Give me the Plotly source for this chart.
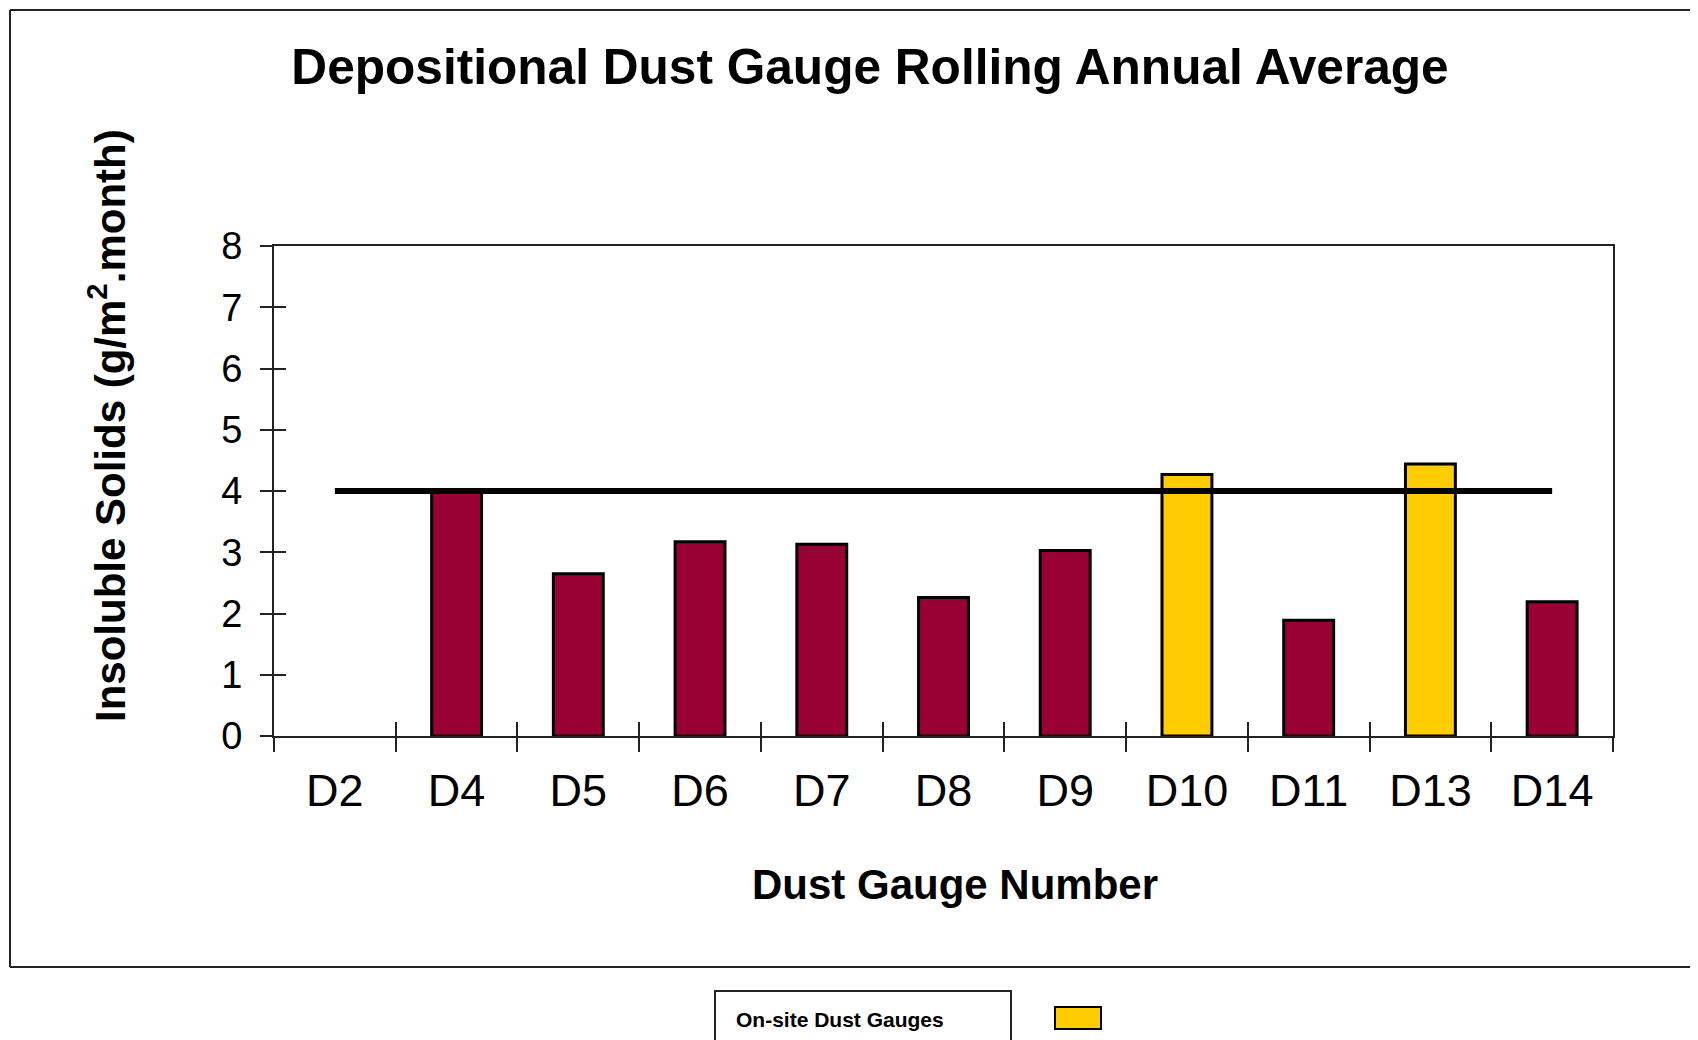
import plotly.graph_objects as go

# Data
gauges = ["D2", "D4", "D5", "D6", "D7", "D8", "D9", "D10", "D11", "D13", "D14"]
insoluble = [None, 3.98, 2.65, 3.17, 3.13, 2.26, 3.03, 4.27, 1.89, 4.44, 2.19]
onsite = ["D10", "D13"]
guideline = [4, 4, 4, 4, 4, 4, 4, 4, 4, 4, 4]

MAROON = "#990033"
YELLOW = "#FFCC00"
FONT = "Arial, Liberation Sans, sans-serif"
DARK = "#222222"

# page is 1698x1040, the html body adds an 8px margin
W, H = 1698, 1040
OFF = 8
L, R, T, B = 274, 1613, 246, 736  # plot area in page pixels


def px(x):
    return (x - L) / (R - L)


def py(y):
    return (B - y) / (B - T)


bar_colors = [YELLOW if g in onsite else MAROON for g in gauges]

fig = go.Figure()
fig.add_trace(go.Bar(
    x=gauges, y=insoluble, width=0.41,
    marker=dict(color=bar_colors, line=dict(color="black", width=3)),
    showlegend=False,
))
fig.add_trace(go.Scatter(
    x=gauges, y=guideline, mode="lines",
    line=dict(color="black", width=6),
    showlegend=False,
))
# invisible trace so the overlay axes (inner half of the ticks) get drawn
fig.add_trace(go.Scatter(x=[0], y=[0], xaxis="x2", yaxis="y2", mode="markers",
                         marker=dict(opacity=0), showlegend=False,
                         hoverinfo="skip"))

axis_line = dict(showline=True, linecolor=DARK, linewidth=2, mirror=True,
                 showgrid=False, zeroline=False)

fig.update_layout(
    width=W - OFF, height=H - OFF,
    margin=dict(l=L - OFF, r=W - R, t=T - OFF, b=H - B),
    paper_bgcolor="white", plot_bgcolor="white",
    font=dict(family=FONT, color="black"),
    title=dict(text="<b>Depositional Dust Gauge Rolling Annual Average</b>",
               font=dict(size=49.6, family=FONT), xref="paper", x=px(870),
               xanchor="center", yref="container",
               y=1 - (67 - OFF) / (H - OFF), yanchor="middle"),
    xaxis=dict(type="category", range=[-0.5, 10.5], tickson="boundaries",
               ticks="outside", ticklen=14, tickwidth=2, tickcolor=DARK,
               tickfont=dict(size=45), ticklabelstandoff=14, **axis_line),
    xaxis2=dict(overlaying="x", range=[-0.5, 10.5], showgrid=False, zeroline=False,
                tickvals=[i - 0.5 for i in range(1, 11)], showticklabels=False,
                ticks="inside", ticklen=14, tickwidth=2, tickcolor=DARK,
                side="bottom", anchor="y2"),
    yaxis=dict(range=[0, 8], dtick=1, ticks="outside", ticklen=12, tickwidth=2,
               tickcolor=DARK, tickfont=dict(size=38), ticklabelstandoff=10,
               **axis_line),
    yaxis2=dict(overlaying="y", range=[0, 8], tickvals=list(range(0, 9)),
                showgrid=False, zeroline=False, showticklabels=False,
                ticks="inside", ticklen=12, tickwidth=2, tickcolor=DARK,
                side="left", anchor="x2"),
    bargap=0.59,
)

fig.add_annotation(text="<b>Dust Gauge Number</b>", xref="paper", yref="paper",
                   x=px(955), y=py(885), xanchor="center", yanchor="middle",
                   showarrow=False, font=dict(size=42))
fig.add_annotation(text="<b>Insoluble Solids (g/m<sup>2</sup>.month)</b>",
                   xref="paper", yref="paper", x=px(107), y=py(426),
                   xanchor="center", yanchor="middle",
                   showarrow=False, textangle=-90, font=dict(size=42))

# outer chart frame (open on the right, as in the original)
frame = dict(color=DARK, width=2)
fig.add_shape(type="line", xref="paper", yref="paper", x0=px(10), x1=px(10),
              y0=py(10), y1=py(967), line=frame)
fig.add_shape(type="line", xref="paper", yref="paper", x0=px(10), x1=px(1760),
              y0=py(10), y1=py(10), line=frame)
fig.add_shape(type="line", xref="paper", yref="paper", x0=px(10), x1=px(1760),
              y0=py(967), y1=py(967), line=frame)

# legend key below the chart
fig.add_shape(type="rect", xref="paper", yref="paper", x0=px(715), x1=px(1011),
              y0=py(991), y1=py(1060), line=frame)
fig.add_annotation(text="<b>On-site Dust Gauges</b>", xref="paper", yref="paper",
                   x=px(734), y=py(1019), xanchor="left", yanchor="middle",
                   showarrow=False, font=dict(size=21))
fig.add_shape(type="rect", xref="paper", yref="paper", x0=px(1055), x1=px(1101),
              y0=py(1007), y1=py(1029), fillcolor=YELLOW,
              line=dict(color="black", width=2))

fig.write_html("out.html")
